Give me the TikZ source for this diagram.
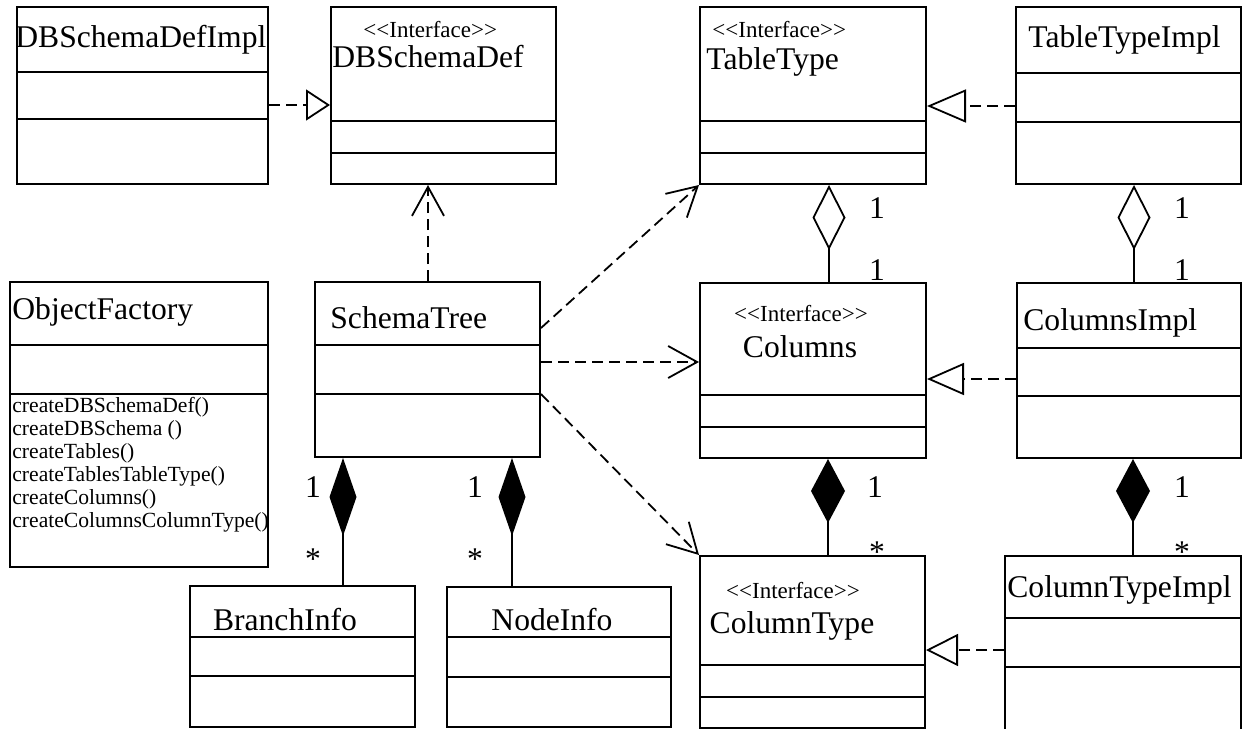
\documentclass[tikz,border=0pt]{standalone}
\usepackage{fontspec}
\setmainfont{Liberation Serif}
\usetikzlibrary{arrows.meta,fit}
\newcommand\clsdiv[2]{\draw[sep] (#1.west |- 0,#2) -- (#1.east |- 0,#2);}
\newcommand\stereo{<\kern0pt<Interface>\kern0pt>}
\tikzset{
  cls/.style={draw, line width=1pt, inner sep=0pt},
  sep/.style={line width=1pt},
  nm/.style={font=\fontsize{15.8}{18}\selectfont, inner sep=0pt},
  st/.style={font=\fontsize{11.5}{13}\selectfont, inner sep=0pt},
  mth/.style={font=\fontsize{10.8}{11.6}\selectfont, inner sep=0pt},
  mult/.style={font=\fontsize{15.8}{18}\selectfont, inner sep=0pt},
  conn/.style={line width=0.9pt},
  dsh/.style={conn, dash pattern=on 5.5pt off 3pt},
  realize/.style 2 args={dsh, -{Triangle[open, length=#1, width=#2]}},
  dep/.style={dsh, -{Straight Barb[length=14.5pt, width=16pt]}},
  aggr/.style={conn, {Diamond[open, length=32.5pt, width=16.5pt]}-},
  comp/.style 2 args={conn, {Diamond[length=#1, width=#2]}-},
}
\begin{document}
\begin{tikzpicture}[x=0.5pt, y=-0.5pt]
\clip (0,0) rectangle (1249,729);
\fill[white] (0,0) rectangle (1249,729);

% class boxes
\node[cls, fit={(17,7) (268,184)}] (dbimpl) {};
\node[cls, fit={(331,7) (556,184)}] (dbdef) {};
\node[cls, fit={(700,7) (926,184)}] (tabletype) {};
\node[cls, fit={(1016,7) (1241,184)}] (ttimpl) {};
\node[cls, fit={(10,282) (268,567)}] (objfac) {};
\node[cls, fit={(315,282) (540,457)}] (schematree) {};
\node[cls, fit={(700,283) (926,458)}] (columns) {};
\node[cls, fit={(1017,283) (1241,458)}] (colimpl) {};
\node[cls, fit={(700,556) (925,728)}] (coltype) {};
\node[cls, fit={(1005,556) (1241,735)}] (ctimpl) {};
\node[cls, fit={(190,586) (415,727)}] (branch) {};
\node[cls, fit={(447,587) (671,727)}] (nodeinfo) {};

% compartments
\clsdiv{dbimpl}{72}\clsdiv{dbimpl}{119}
\clsdiv{dbdef}{121}\clsdiv{dbdef}{153}
\clsdiv{tabletype}{121}\clsdiv{tabletype}{153}
\clsdiv{ttimpl}{73}\clsdiv{ttimpl}{122}
\clsdiv{objfac}{345}\clsdiv{objfac}{394}
\clsdiv{schematree}{345}\clsdiv{schematree}{394}
\clsdiv{columns}{395}\clsdiv{columns}{427}
\clsdiv{colimpl}{348}\clsdiv{colimpl}{396}
\clsdiv{coltype}{665}\clsdiv{coltype}{697}
\clsdiv{ctimpl}{618}\clsdiv{ctimpl}{667}
\clsdiv{branch}{637}\clsdiv{branch}{676}
\clsdiv{nodeinfo}{637}\clsdiv{nodeinfo}{677}

% names
\node[nm, anchor=base west] (t-dbimpl) at (15,47) {DBSchemaDefImpl};
\node[st, anchor=base west] (s-dbdef) at (363,37) {\stereo};
\node[nm, anchor=base west] (t-dbdef) at (332,67) {DBSchemaDef};
\node[st, anchor=base west] (s-tabletype) at (712,37) {\stereo};
\node[nm, anchor=base west] (t-tabletype) at (706,69) {TableType};
\node[nm, anchor=base west] (t-ttimpl) at (1028,47) {TableTypeImpl};
\node[nm, anchor=base west] (t-objfac) at (12,319) {ObjectFactory};
\foreach \t [count=\i] in {createDBSchemaDef(), createDBSchema (), createTables(),
  createTablesTableType(), createColumns(), createColumnsColumnType()}
  \node[mth, anchor=base west] (m\i) at (12,389+23*\i) {\t};
\node[nm, anchor=base west] (t-schematree) at (330,328) {SchemaTree};
\node[st, anchor=base] (s-columns) at (801,321) {\stereo};
\node[nm, anchor=base] (t-columns) at (800,357) {Columns};
\node[nm, anchor=base west] (t-colimpl) at (1023,330) {ColumnsImpl};
\node[st, anchor=base] (s-coltype) at (793,598) {\stereo};
\node[nm, anchor=base] (t-coltype) at (792,633) {ColumnType};
\node[nm, anchor=base west] (t-ctimpl) at (1007,597) {ColumnTypeImpl};
\node[nm, anchor=base] (t-branch) at (285,630) {BranchInfo};
\node[nm, anchor=base] (t-nodeinfo) at (552,630) {NodeInfo};

% realizations
\draw[realize={12pt}{15.5pt}] (dbimpl.east |- 0,105) -- (dbdef.west |- 0,105);
\draw[realize={19.5pt}{16.5pt}] (ttimpl.west |- 0,106) -- (tabletype.east |- 0,106);
\draw[realize={18.5pt}{16pt}] (colimpl.west |- 0,379) -- (columns.east |- 0,379);
\draw[realize={16pt}{16pt}] (ctimpl.west |- 0,650) -- (coltype.east |- 0,650);

% dependencies
\draw[dep] (schematree.north -| 428,0) -- (dbdef.south -| 428,0);
\draw[dep] (schematree.east |- 0,328) -- (tabletype.south west);
\draw[dep] (schematree.east |- 0,362) -- (columns.west |- 0,362);
\draw[dep] (schematree.east |- 0,394) -- (coltype.north west);

% aggregations
\draw[aggr] (tabletype.south -| 829,0) -- (columns.north -| 829,0);
\draw[aggr] (ttimpl.south -| 1134,0) -- (colimpl.north -| 1134,0);

% compositions
\draw[comp={32pt}{17pt}] (columns.south -| 828,0) -- (coltype.north -| 828,0);
\draw[comp={32pt}{17pt}] (colimpl.south -| 1133,0) -- (ctimpl.north -| 1133,0);
\draw[comp={39pt}{13.5pt}] (schematree.south -| 343,0) -- (branch.north -| 343,0);
\draw[comp={39pt}{13.5pt}] (schematree.south -| 512,0) -- (nodeinfo.north -| 512,0);

% multiplicities
\node[mult] (a1) at (877,208) {1};
\node[mult] (a2) at (877,270) {1};
\node[mult] (a3) at (1182,208) {1};
\node[mult] (a4) at (1182,270) {1};
\node[mult] (c1) at (875,487) {1};
\node[mult] (c2) at (877,552) {*};
\node[mult] (c3) at (1182,487) {1};
\node[mult] (c4) at (1182,552) {*};
\node[mult] (b1) at (313,487) {1};
\node[mult] (b2) at (313,559) {*};
\node[mult] (n1) at (475,487) {1};
\node[mult] (n2) at (475,559) {*};
\end{tikzpicture}
\end{document}
